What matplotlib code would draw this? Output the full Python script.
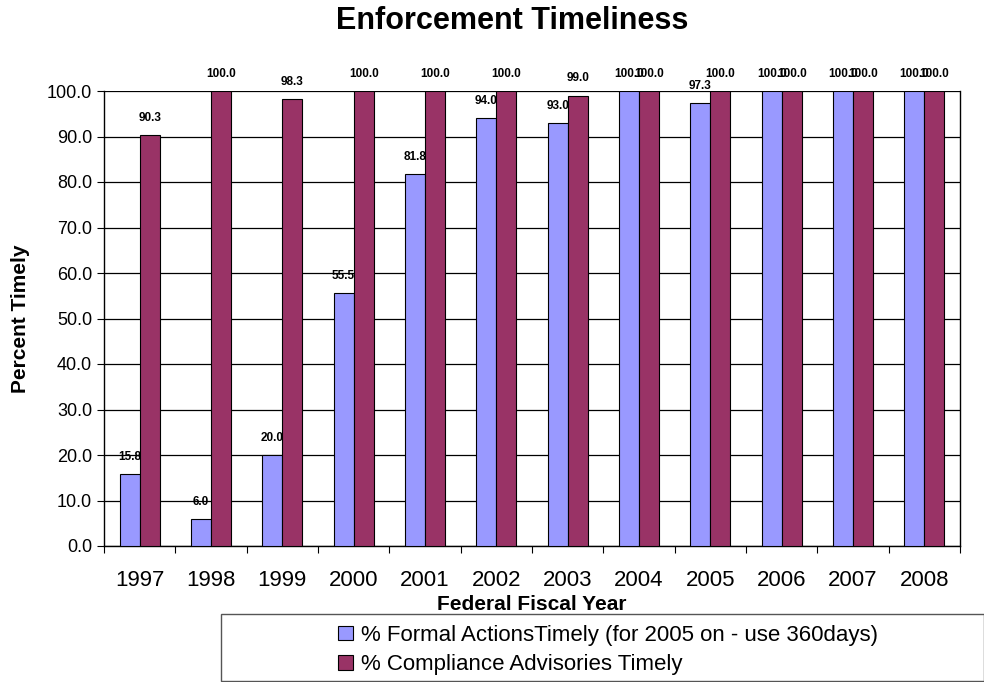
import matplotlib
matplotlib.use("Agg")
import matplotlib.pyplot as plt
import numpy as np
from matplotlib.patches import Rectangle

plt.rcParams['font.family'] = ['Liberation Sans', 'DejaVu Sans']

years = ['1997', '1998', '1999', '2000', '2001', '2002', '2003', '2004', '2005', '2006', '2007', '2008']
formal = [15.8, 6.0, 20.0, 55.5, 81.8, 94.0, 93.0, 100.0, 97.3, 100.0, 100.0, 100.0]
advisory = [90.3, 100.0, 98.3, 100.0, 100.0, 100.0, 99.0, 100.0, 100.0, 100.0, 100.0, 100.0]

formal_label = '% Formal ActionsTimely (for 2005 on - use 360days)'
advisory_label = '% Compliance Advisories Timely'

fig = plt.figure(figsize=(9.84, 6.82), dpi=100)
ax = fig.add_axes([104/984, 1-546/682, (960-104)/984, (546-91)/682])

x = np.arange(len(years))
w = 0.28
b1 = ax.bar(x - w/2, formal, w, color='#9999FF', edgecolor='black', linewidth=0.8, label=formal_label, zorder=3)
b2 = ax.bar(x + w/2, advisory, w, color='#993366', edgecolor='black', linewidth=0.8, label=advisory_label, zorder=3)

# value labels (they overlap at 100/100 in the original too)
for bars, vals in [(b1, formal), (b2, advisory)]:
    for r, v in zip(bars, vals):
        ax.annotate('%.1f' % v, (r.get_x() + r.get_width()/2, v), xytext=(0, 8),
                    textcoords='offset points', ha='center', va='bottom',
                    fontsize=8.5, fontweight='bold', annotation_clip=False, zorder=4)

ax.set_xlim(-0.5, len(years) - 0.5)
ax.set_ylim(0, 100)
ax.set_yticks(np.arange(0, 101, 10))
ax.set_yticklabels(['%.1f' % t for t in np.arange(0, 101, 10)], fontsize=13)
ax.set_xticks(np.arange(-0.5, len(years), 1), minor=False)
ax.set_xticklabels([])
ax.set_xticks(x, minor=True)
ax.set_xticklabels(years, minor=True, fontsize=16)
ax.tick_params(axis='x', which='minor', length=0, pad=17)
ax.tick_params(axis='x', which='major', length=5, direction='out')
ax.tick_params(axis='y', length=5, direction='out')
ax.yaxis.grid(True, color='black', linewidth=0.9, zorder=0)
for s in ax.spines.values():
    s.set_color('black')
    s.set_linewidth(1.0)
ax.spines['top'].set_visible(False)

ax.set_xlabel('Federal Fiscal Year', fontsize=15, fontweight='bold', labelpad=3)
ax.set_ylabel('Percent Timely', fontsize=15, fontweight='bold', labelpad=12)

fig.text(512/984, 1-21/682, 'Enforcement Timeliness', ha='center', va='center',
         fontsize=22, fontweight='bold')

fig.patches.append(Rectangle((221/984, 0.002), (984-221)/984, (681-614)/682,
                             transform=fig.transFigure, fill=False,
                             edgecolor='#555555', linewidth=1.0))
fig.legend(handles=[b1, b2], loc='center', bbox_to_anchor=(608/984, 1-650/682),
           frameon=False, fontsize=16, handlelength=0.65, handleheight=0.65,
           handletextpad=0.35, labelspacing=0.38)

fig.savefig('out.png', dpi=100)
